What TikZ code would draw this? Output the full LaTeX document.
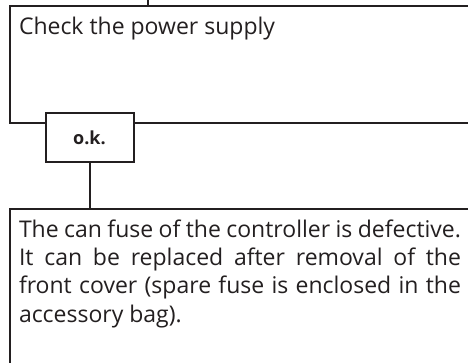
\documentclass[tikz,border=0pt]{standalone}
\usepackage{fontspec}
\setmainfont{Open Sans}
\usetikzlibrary{positioning}
\definecolor{ink}{HTML}{231F20}
\tikzset{
  box/.style    = {draw=ink, line width=2pt, fill=white, text=ink,
                   outer sep=0pt, anchor=north west, align=justify,
                   inner xsep=9.5pt, inner ysep=12.1pt, text height=16.4pt,
                   font=\fontsize{23}{28.2}\selectfont},
  okbox/.style  = {draw=ink, line width=2pt, fill=white, text=ink,
                   outer sep=0pt, minimum width=88pt, minimum height=49pt,
                   font=\fontsize{18}{20}\selectfont\bfseries},
  wire/.style   = {draw=ink, line width=2pt},
}

\begin{document}
\begin{tikzpicture}[x=1pt, y=-1pt]

  \useasboundingbox (0,0) rectangle (468,363);
  \clip (0,0) rectangle (468,363);

  % --- incoming line from the step above ---
  \coordinate (from) at (148,-10);

  % --- check step ---
  \node[box, text width=450pt, text depth=75.9pt]
        (check) at (9.5,6.5) {Check the power supply};

  % --- result tag ---
  \node[okbox, anchor=north] (ok)
        at ([xshift=80pt, yshift=10pt]check.south west) {o.k.};

  % --- remedy ---
  \node[box, text width=442pt, text depth=200pt]
        (fuse) at (9.5,209)
        {The can fuse of the controller is defective.\linebreak
         It can be replaced after removal of the\linebreak
         front cover (spare fuse is enclosed in the\linebreak
         accessory bag).};

  % --- lines ---
  \draw[wire] (from) -- (from |- check.north);
  \draw[wire] (ok.south) -- (ok.south |- fuse.north);

\end{tikzpicture}
\end{document}
